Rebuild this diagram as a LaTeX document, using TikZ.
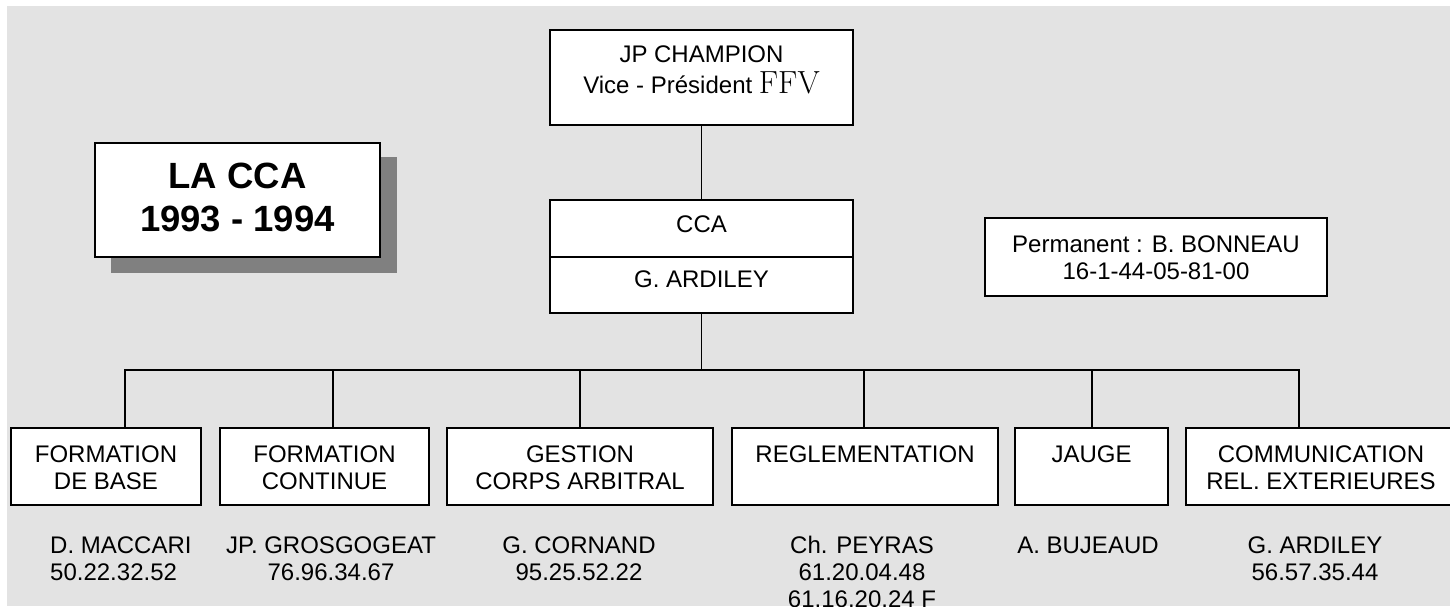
\documentclass[tikz,border=0pt]{standalone}
\usepackage{fontspec}
\setsansfont{Liberation Sans}
\begin{document}
\begin{tikzpicture}[x=1pt,y=-1pt,
  box/.style={draw=black,fill=white,line width=1.9pt,inner sep=0pt,rectangle},
  txt/.style={font=\sffamily\fontsize{24}{27}\selectfont,inner sep=0pt,anchor=base},
  ttl/.style={font=\sffamily\bfseries\fontsize{36.5}{43}\selectfont,inner sep=0pt,anchor=base},
  conn/.style={line width=1.9pt,draw=black}]
\definecolor{bggray}{HTML}{E3E3E3}
\definecolor{shadowgray}{HTML}{808080}
\useasboundingbox (0,0) rectangle (1450,606);
\fill[bggray] (7,6) rectangle (1450,606);
% title
\fill[shadowgray] (111,157) rectangle (397,273);
\node[box,minimum width=285pt,minimum height=114pt] (title) at (237.5,200) {};
\node[ttl] (t1) at (237.5,188) {LA CCA};
\node[ttl] (t2) at (237.5,231) {1993 - 1994};
% top
\node[box,minimum width=303pt,minimum height=95pt] (jp) at (701.5,77.5) {};
\node[txt] (jp1) at (701.5,62) {JP CHAMPION};
\node[txt] (jp2) at (701.5,93) {Vice - Président {\rmfamily\fontsize{32}{34}\selectfont FFV}};
\node[box,minimum width=303pt,minimum height=113pt] (cca) at (701.5,256.5) {};
\draw[conn] (cca.west |- 0,257) -- (cca.east |- 0,257);
\node[txt] (cca1) at (701.5,232) {CCA};
\node[txt] (cca2) at (701.5,287) {G. ARDILEY};
\draw[conn] (jp.south) -- (cca.north);
% permanent
\node[box,minimum width=342pt,minimum height=78pt] (perm) at (1156,257) {};
\node[txt] (p1) at (1156,252) {Permanent : B. BONNEAU};
\node[txt] (p2) at (1156,279) {16-1-44-05-81-00};
% bottom boxes
\node[box,minimum width=190pt,minimum height=77pt] (b1) at (106,466.5) {};
\node[box,minimum width=209pt,minimum height=77pt] (b2) at (324.5,466.5) {};
\node[box,minimum width=266pt,minimum height=77pt] (b3) at (580,466.5) {};
\node[box,minimum width=266pt,minimum height=77pt] (b4) at (865,466.5) {};
\node[box,minimum width=153pt,minimum height=77pt] (b5) at (1091.5,466.5) {};
\node[box,minimum width=270pt,minimum height=77pt] (b6) at (1321,466.5) {};
\node[txt] (b1a) at (106,462) {FORMATION};
\node[txt] (b1b) at (106,489) {DE BASE};
\node[txt] (b2a) at (324.5,462) {FORMATION};
\node[txt] (b2b) at (324.5,489) {CONTINUE};
\node[txt] (b3a) at (580,462) {GESTION};
\node[txt] (b3b) at (580,489) {CORPS ARBITRAL};
\node[txt] (b4a) at (865,462) {REGLEMENTATION};
\node[txt] (b5a) at (1091.5,462) {JAUGE};
\node[txt] (b6a) at (1321,462) {COMMUNICATION};
\node[txt] (b6b) at (1321,489) {REL. EXTERIEURES};
% bus
\coordinate (hub) at (701.5,370);
\coordinate (c1) at (125,370);
\coordinate (c2) at (333,370);
\coordinate (c3) at (580,370);
\coordinate (c4) at (864,370);
\coordinate (c5) at (1092,370);
\coordinate (c6) at (1299,370);
\draw[conn] (cca.south) -- (hub);
\draw[conn,line cap=rect] (c1) -- (c6);
\foreach \i in {1,...,6} {\draw[conn] (c\i) -- (c\i |- b\i.north);}
% names
\node[txt,anchor=base west] (n1a) at (50,553) {D. MACCARI};
\node[txt,anchor=base west] (n1b) at (50,580) {50.22.32.52};
\node[txt] (n2a) at (331,553) {JP. GROSGOGEAT};
\node[txt] (n2b) at (331,580) {76.96.34.67};
\node[txt] (n3a) at (579,553) {G. CORNAND};
\node[txt] (n3b) at (579,580) {95.25.52.22};
\node[txt] (n4a) at (862,553) {Ch. PEYRAS};
\node[txt] (n4b) at (862,580) {61.20.04.48};
\node[txt] (n4c) at (862,607) {61.16.20.24 F};
\node[txt] (n5a) at (1088,553) {A. BUJEAUD};
\node[txt] (n6a) at (1315,553) {G. ARDILEY};
\node[txt] (n6b) at (1315,580) {56.57.35.44};
\end{tikzpicture}
\end{document}
